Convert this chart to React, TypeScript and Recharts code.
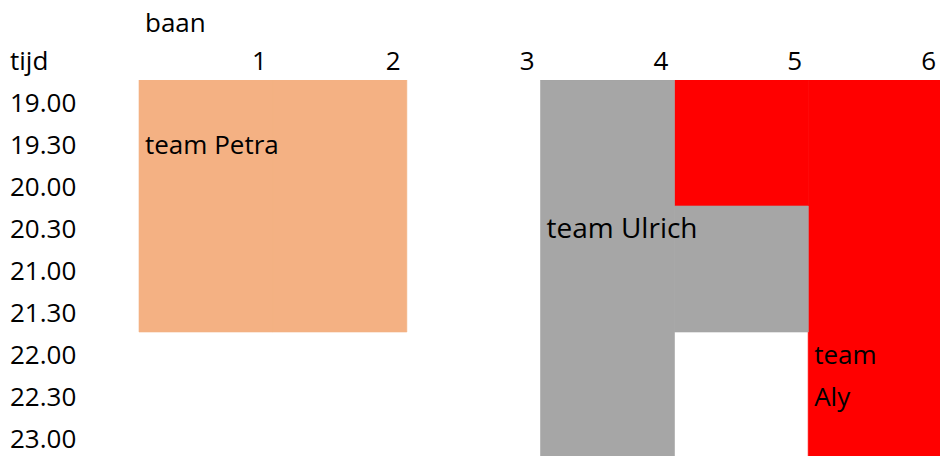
import React from 'react';
import { BarChart, Bar, XAxis, YAxis, LabelList } from 'recharts';

// ---- data ----
const lanes = ['1', '2', '3', '4', '5', '6'];
const timeSlots = ['19.00', '19.30', '20.00', '20.30', '21.00', '21.30', '22.00', '22.30', '23.00'];
// half-hour slots occupied per lane (stacked from 19.00 downwards)
const petraSlots = [6, 6, 0, 0, 0, 0];
const alySlots = [0, 0, 0, 0, 3, 9];
const ulrichSlots = [0, 0, 0, 9, 3, 0];

const teamLabels = [
  { team: 'petra', lane: '1', rowOffset: 1, lines: ['team Petra'] },
  { team: 'ulrich', lane: '4', rowOffset: 3, lines: ['team Ulrich'] },
  { team: 'aly', lane: '6', rowOffset: 6, lines: ['team', 'Aly'] },
];

const data = lanes.map((lane, i) => ({
  lane,
  petra: petraSlots[i],
  aly: alySlots[i],
  ulrich: ulrichSlots[i],
}));

const seriesValues: Record<string, number[]> = {
  petra: petraSlots,
  aly: alySlots,
  ulrich: ulrichSlots,
};

// ---- styles ----
const FONT = '"Open Sans", sans-serif';
const labelSize: Record<string, number> = { petra: 26, ulrich: 28, aly: 26 };

const laneAccessor = (entry: any) => (entry && entry.payload ? entry.payload.lane : undefined);

const makeTeamLabel = (team: string) => (props: any) => {
  const { value, viewBox } = props;
  if (!viewBox || value == null) return null;
  const lane = String(value);
  const idx = lanes.indexOf(lane);
  const lbl = teamLabels.find((l) => l.team === team && l.lane === lane);
  const v = idx >= 0 ? seriesValues[team][idx] : 0;
  if (!lbl || !v) return null;
  const top = Math.min(viewBox.y, viewBox.y + viewBox.height);
  const h = Math.abs(viewBox.height);
  const rowH = h / v;
  return (
    <g>
      {lbl.lines.map((line, k) => (
        <text
          key={k}
          x={viewBox.x + 6}
          y={top + (lbl.rowOffset + k + 1) * rowH - 10}
          fontFamily={FONT}
          fontSize={labelSize[team]}
          fill="#000"
          textAnchor="start"
        >
          {line}
        </text>
      ))}
    </g>
  );
};

const LaneTick = (props: any) => {
  const { x, y, payload } = props;
  const off = payload && payload.offset ? payload.offset : 0;
  return (
    <text x={x + off - 6} y={y - 10} textAnchor="end" fontFamily={FONT} fontSize={26} fill="#000">
      {payload.value}
    </text>
  );
};

const TimeTick = (props: any) => {
  const { x, y, payload } = props;
  const idx = Math.floor(payload.value);
  return (
    <text x={x - 129} y={y + 11} textAnchor="start" fontFamily={FONT} fontSize={26} fill="#000">
      {timeSlots[idx]}
    </text>
  );
};

const BaanLabel = (props: any) => {
  const vb = props.viewBox || { x: 139, y: 0 };
  return (
    <text x={vb.x + 6} y={vb.y + 32} fontFamily={FONT} fontSize={26} fill="#000">
      baan
    </text>
  );
};

const TijdLabel = (props: any) => {
  const vb = props.viewBox || { x: 0, y: 80 };
  return (
    <text x={vb.x + 10} y={vb.y - 10} fontFamily={FONT} fontSize={26} fill="#000">
      tijd
    </text>
  );
};

const yTicks = timeSlots.map((_, i) => i + 0.5);

export default function App() {
  return (
    <div style={{ position: 'fixed', left: 0, top: 0, width: 940, height: 456, overflow: 'hidden', background: '#fff' }}>
      <BarChart
        width={942}
        height={458}
        data={data}
        margin={{ top: 0, right: 0, bottom: 0, left: 0 }}
        barCategoryGap={0}
        barGap={0}
      >
        <XAxis
          dataKey="lane"
          type="category"
          orientation="top"
          height={80}
          axisLine={false}
          tickLine={false}
          tickSize={0}
          tickMargin={0}
          interval={0}
          tick={<LaneTick />}
          label={<BaanLabel />}
        />
        <YAxis
          type="number"
          domain={[0, timeSlots.length]}
          reversed
          width={139}
          ticks={yTicks}
          axisLine={false}
          tickLine={false}
          tickSize={0}
          tickMargin={0}
          interval={0}
          allowDataOverflow
          tick={<TimeTick />}
          label={<TijdLabel />}
        />
        <Bar dataKey="petra" stackId="a" fill="#F4B183" stroke="#F4B183" strokeWidth={0.6} isAnimationActive={false}>
          <LabelList valueAccessor={laneAccessor} content={makeTeamLabel('petra')} />
        </Bar>
        <Bar dataKey="aly" stackId="a" fill="#FF0000" stroke="#FF0000" strokeWidth={0.6} isAnimationActive={false}>
          <LabelList valueAccessor={laneAccessor} content={makeTeamLabel('aly')} />
        </Bar>
        <Bar dataKey="ulrich" stackId="a" fill="#A6A6A6" stroke="#A6A6A6" strokeWidth={0.6} isAnimationActive={false}>
          <LabelList valueAccessor={laneAccessor} content={makeTeamLabel('ulrich')} />
        </Bar>
      </BarChart>
    </div>
  );
}
